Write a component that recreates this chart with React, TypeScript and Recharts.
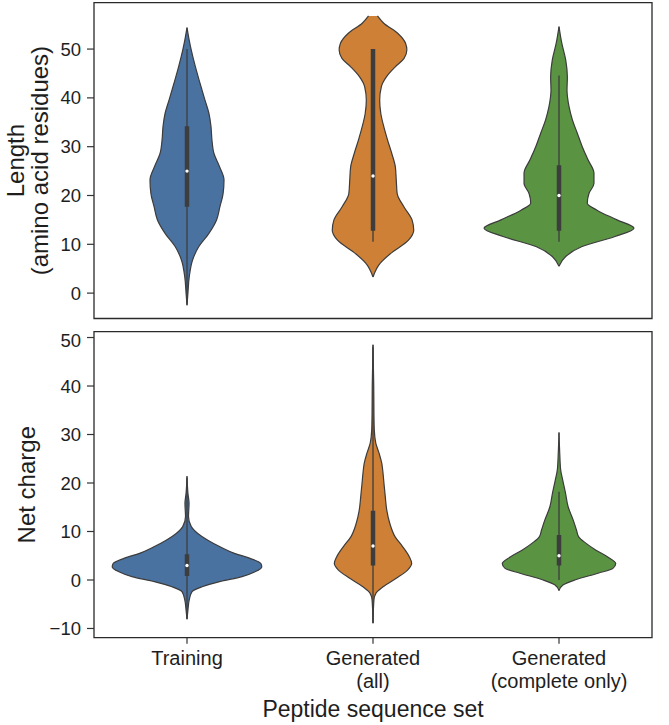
import React from 'react';
import { ComposedChart, Area, Line, XAxis, YAxis, ReferenceArea } from 'recharts';

// ── Data ──────────────────────────────────────────────────────────────────────

const groupLines = [['Training'], ['Generated', '(all)'], ['Generated', '(complete only)']];
const groupColors = ['#4a72a1', '#cd8036', '#5a9443'];

// Length panel — violin outlines (value, half width as fraction of a category band)
const trainLenY = [-2.5, 0, 3.3, 6.8, 9.5, 12.2, 15, 17.7, 20.4, 23.2, 25.9, 28.6, 31.4, 34.1, 36.8, 39.5, 43, 46.4, 49.8, 52, 54.4];
const trainLenW = [0, 0.005, 0.012, 0.03, 0.063, 0.117, 0.159, 0.177, 0.194, 0.199, 0.175, 0.145, 0.134, 0.129, 0.118, 0.097, 0.07, 0.045, 0.023, 0.011, 0];
const allLenY = [3.3, 6.1, 8.1, 10.9, 12.9, 15, 17.7, 20.4, 23.2, 25.9, 28.6, 31.4, 34.1, 36.8, 39.5, 42.3, 44.3, 46.4, 48.1, 49.8, 51.2, 53.2, 55.3, 56.8];
const allLenW = [0, 0.038, 0.094, 0.192, 0.219, 0.21, 0.166, 0.13, 0.125, 0.12, 0.101, 0.078, 0.058, 0.042, 0.036, 0.045, 0.072, 0.121, 0.167, 0.182, 0.175, 0.134, 0.058, 0.024];
const compLenY = [5.5, 7.5, 9.5, 11.6, 13.3, 15, 17, 18.4, 20.4, 22.5, 24.6, 27.3, 30, 32.8, 35.5, 38.2, 41.6, 44.3, 47.8, 51.2, 54.6];
const compLenW = [0, 0.036, 0.121, 0.301, 0.403, 0.312, 0.204, 0.152, 0.161, 0.188, 0.188, 0.156, 0.125, 0.098, 0.072, 0.054, 0.043, 0.045, 0.036, 0.015, 0];

// Length panel — inner box stats per group
const lenQ1 = [17.7, 12.8, 12.8];
const lenQ3 = [34.2, 50, 26.2];
const lenMedian = [25, 24, 20];
const lenWhiskerLo = [-2.2, 10.5, 10.5];
const lenWhiskerHi = [50, 50, 44.6];
const lenTicks = [0, 10, 20, 30, 40, 50];
const lenDomain = [-5.2, 59.5];

// Net charge panel — violin outlines
const trainChgY = [-8.1, -6.2, -4.1, -2.4, -1.4, -0.35, 0.7, 1.7, 2.7, 3.4, 4.5, 5.5, 6.9, 8.2, 9.6, 11, 13.1, 15.8, 17.9, 21.4];
const trainChgW = [0, 0.005, 0.012, 0.027, 0.081, 0.175, 0.296, 0.366, 0.402, 0.397, 0.336, 0.255, 0.175, 0.112, 0.058, 0.023, 0.008, 0.011, 0.005, 0];
const allChgY = [-8.9, -4.1, -2.7, -1.4, 0.35, 2.1, 3.4, 4.8, 6.9, 8.9, 11.7, 14.4, 17.2, 19.9, 22, 24.1, 26.1, 28.2, 30.9, 34.4, 40, 48.5];
const allChgW = [0, 0.005, 0.016, 0.054, 0.125, 0.187, 0.208, 0.195, 0.159, 0.119, 0.09, 0.074, 0.066, 0.059, 0.054, 0.047, 0.033, 0.015, 0.007, 0.005, 0.004, 0];
const compChgY = [-2.2, -1, 0, 1.4, 2.4, 3.4, 4.8, 6.2, 7.6, 8.9, 10.3, 12.4, 15.1, 17.9, 20.6, 22.7, 26.1, 30.4];
const compChgW = [0, 0.023, 0.085, 0.21, 0.29, 0.305, 0.26, 0.197, 0.144, 0.106, 0.094, 0.076, 0.049, 0.035, 0.02, 0.009, 0.004, 0];

const chgQ1 = [0.8, 3, 3];
const chgQ3 = [5.3, 14.3, 9.3];
const chgMedian = [3, 7, 5];
const chgWhiskerLo = [-8, -8.8, 0];
const chgWhiskerHi = [21, 48, 18.2];
const chgTicks = [-10, 0, 10, 20, 30, 40, 50];
const chgDomain = [-11.9, 51.2];

// ── Helpers ───────────────────────────────────────────────────────────────────

const FONT = '"Liberation Sans", Arial, sans-serif';
const INK = '#1e1e1e';
const EDGE = '#3c3c3c';

const violin = (ys: number[], ws: number[], group: number) =>
  ys.map((y, i) => ({ y, band: [group + 0.5 - ws[i], group + 0.5 + ws[i]] }));

const segment = (lo: number, hi: number, group: number) => [
  { y: lo, c: group + 0.5 },
  { y: hi, c: group + 0.5 },
];

const minus = (v: number) => (v < 0 ? `\u2212${Math.abs(v)}` : `${v}`);

interface PanelProps {
  height: number;
  marginTop: number;
  xAxisHeight: number;
  domain: number[];
  ticks: number[];
  shapes: { y: number; band: number[] }[][];
  q1: number[];
  q3: number[];
  median: number[];
  lo: number[];
  hi: number[];
  yLabel: (vb: { x: number; y: number; width: number; height: number }) => React.ReactNode;
  showTickLabels: boolean;
}

function GroupTick({ x, y, payload }: { x: number; y: number; payload: { value: number } }) {
  const lines = groupLines[Math.round(payload.value - 0.5)] ?? [];
  return (
    <text x={x} y={y} textAnchor="middle" fontSize={20} fill={INK} fontFamily={FONT}>
      {lines.map((l, i) => (
        <tspan key={i} x={x} dy={i === 0 ? 19 : 23}>{l}</tspan>
      ))}
    </text>
  );
}

function ViolinPanel(p: PanelProps) {
  return (
    <ComposedChart
      layout="vertical"
      width={669}
      height={p.height}
      margin={{ top: p.marginTop, right: 17, bottom: 0, left: 0 }}
    >
      <XAxis
        type="number"
        domain={[0, 3]}
        ticks={[0.5, 1.5, 2.5]}
        allowDataOverflow
        axisLine={false}
        tickSize={6}
        tickMargin={2}
        tickLine={{ stroke: '#333', strokeWidth: 1.2 }}
        height={p.xAxisHeight}
        tick={p.showTickLabels ? (props: any) => <GroupTick {...props} /> : false}
        label={
          p.showTickLabels
            ? {
                content: (lp: any) => (
                  <text
                    x={lp.viewBox.x + lp.viewBox.width / 2}
                    y={lp.viewBox.y + 79.5}
                    textAnchor="middle"
                    fontSize={23}
                    fill={INK}
                    fontFamily={FONT}
                  >
                    Peptide sequence set
                  </text>
                ),
              }
            : undefined
        }
      />
      <YAxis
        type="number"
        dataKey="y"
        domain={p.domain}
        ticks={p.ticks}
        reversed
        allowDataOverflow
        width={94}
        axisLine={false}
        tickSize={7}
        tickMargin={6}
        tickLine={{ stroke: '#333', strokeWidth: 1.2 }}
        tickFormatter={minus}
        tick={{ fontSize: 18.5, fill: INK, fontFamily: FONT }}
        label={{ content: (lp: any) => p.yLabel(lp.viewBox) }}
      />
      {p.shapes.map((d, i) => (
        <Area
          key={`v${i}`}
          data={d}
          dataKey="band"
          type="monotone"
          fill={groupColors[i]}
          fillOpacity={1}
          stroke={EDGE}
          strokeWidth={1.2}
          isAnimationActive={false}
          dot={false}
          activeDot={false}
        />
      ))}
      {p.q1.map((_, i) => (
        <Line
          key={`w${i}`}
          data={segment(p.lo[i], p.hi[i], i)}
          dataKey="c"
          stroke="#3d3d3d"
          strokeWidth={1.3}
          dot={false}
          activeDot={false}
          isAnimationActive={false}
        />
      ))}
      {p.q1.map((_, i) => (
        <Line
          key={`b${i}`}
          data={segment(p.q1[i], p.q3[i], i)}
          dataKey="c"
          stroke="#3d3d3d"
          strokeWidth={4.5}
          dot={false}
          activeDot={false}
          isAnimationActive={false}
        />
      ))}
      {p.median.map((m, i) => (
        <Line
          key={`m${i}`}
          data={[{ y: m, c: i + 0.5 }]}
          dataKey="c"
          stroke="none"
          dot={{ r: 1.7, fill: '#ffffff', stroke: 'none' }}
          activeDot={false}
          isAnimationActive={false}
        />
      ))}
      <ReferenceArea
        x1={0}
        x2={3}
        y1={p.domain[0]}
        y2={p.domain[1]}
        fill="none"
        stroke="#2a2a2a"
        strokeWidth={1.3}
        ifOverflow="visible"
      />
    </ComposedChart>
  );
}

// ── App ───────────────────────────────────────────────────────────────────────

export default function App() {
  const lenShapes = [
    violin(trainLenY, trainLenW, 0),
    violin(allLenY, allLenW, 1),
    violin(compLenY, compLenW, 2),
  ];
  const chgShapes = [
    violin(trainChgY, trainChgW, 0),
    violin(allChgY, allChgW, 1),
    violin(compChgY, compChgW, 2),
  ];

  return (
    <div style={{ position: 'absolute', left: 0, top: 0, width: 669, height: 725, background: '#fff' }}>
      <ViolinPanel
        height={330}
        marginTop={2.7}
        xAxisHeight={11.5}
        domain={lenDomain}
        ticks={lenTicks}
        shapes={lenShapes}
        q1={lenQ1}
        q3={lenQ3}
        median={lenMedian}
        lo={lenWhiskerLo}
        hi={lenWhiskerHi}
        showTickLabels={false}
        yLabel={(vb) => {
          const cy = vb.y + vb.height / 2;
          return (
            <text
              x={24}
              y={cy}
              transform={`rotate(-90, 24, ${cy})`}
              textAnchor="middle"
              fontSize={24}
              fill={INK}
              fontFamily={FONT}
            >
              <tspan x={24} dy={0}>Length</tspan>
              <tspan x={24} dy={24}>(amino acid residues)</tspan>
            </text>
          );
        }}
      />
      <ViolinPanel
        height={395}
        marginTop={1.7}
        xAxisHeight={87.3}
        domain={chgDomain}
        ticks={chgTicks}
        shapes={chgShapes}
        q1={chgQ1}
        q3={chgQ3}
        median={chgMedian}
        lo={chgWhiskerLo}
        hi={chgWhiskerHi}
        showTickLabels
        yLabel={(vb) => {
          const cy = vb.y + vb.height / 2;
          return (
            <text
              x={35.5}
              y={cy}
              transform={`rotate(-90, 35.5, ${cy})`}
              textAnchor="middle"
              fontSize={24}
              fill={INK}
              fontFamily={FONT}
            >
              Net charge
            </text>
          );
        }}
      />
    </div>
  );
}
